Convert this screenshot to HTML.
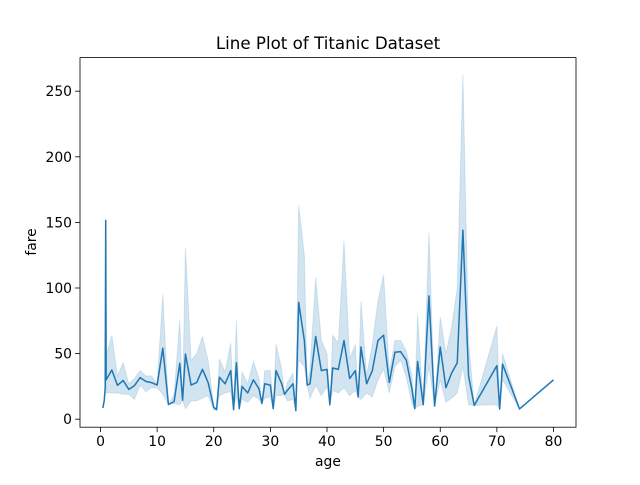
<!DOCTYPE html>
<html><head><meta charset="utf-8"><style>
body{margin:0;background:#fff;font-family:"Liberation Sans","DejaVu Sans",sans-serif}
svg text{font-family:"DejaVu Sans","Liberation Sans",sans-serif;fill:#000}
</style></head><body>
<svg id="chart" width="640" height="480">
<rect width="640" height="480" fill="#fff"/>
<g id="plot"></g>
</svg>
<script>
const ages=[0.42,0.67,0.75,0.83,0.92,1,2,3,4,5,6,7,8,9,10,11,12,13,14,14.5,15,16,17,18,19,20,20.5,21,22,23,23.5,24,24.5,25,26,27,28,28.5,29,30,30.5,31,32,32.5,33,34,34.5,35,36,36.5,37,38,39,40,40.5,41,42,43,44,45,45.5,46,47,48,49,50,51,52,53,54,55,55.5,56,57,58,59,60,61,62,63,64,65,66,70,70.5,71,74,80];
const fareMean=[8.5,14.5,19.3,23.9,151.5,30,37.5,25.8,29.5,22.7,25.6,31.7,28.8,27.9,26,54.2,11.2,13.4,42.6,14.5,49.7,26,28,38,28,9,7.3,32,27,37,7.2,43,8.1,25,20,30,23,12,27,26,8,37,27,19,22,27,6.5,89,60,26,27,63,37,38,11,39,38,60,31,37,17,55,27,37,60,64,28,51,51.5,45,23,8,44,11,94,10,55,24,35,43,144,33,10.5,40.8,7.8,42,7.8,30];
const fareLo=[8.5,14.5,19.3,19,151.5,20,20,20,19,19,15,26,21,24,24,19,11.2,12,11,14.5,8,14,14,16,18,7,7.3,18,20,21,7.2,18,8.1,15,13,18,15,12,16,17,8,18,18,19,14,15,6.5,45,40,26,16,26,18,25,11,22,20,24,18,22,17,15,20,17,30,38,20,40,45,32,12,8,10,11,40,10,30,13,16,20,40,11,10.5,11,7.8,30,7.8,30];
const fareHi=[8.5,14.5,19.3,29,151.5,48,64,33,43,27,31,37,33,33,27,95,11.2,19,76,14.5,131,45,50,63,45,10,7.3,46,36,58,7.2,75,8.1,36,27,44,31,12,37,37,8,57,38,19,28,35,6.5,163,125,26,38,108,60,50,11,64,58,136,46,57,17,90,33,57,90,110,36,60,60,52,33,8,80,11,143,10,78,50,70,100,263,60,10.5,71,7.8,50,7.8,30];
const xTicks=[0,10,20,30,40,50,60,70,80];
const yTicks=[0,50,100,150,200,250];
const L=80,R=576,T=57.6,B=427.2;
const xs=v=>100.5+v*(553.5-100.5)/80;
const ys=v=>419.2-v*(419.2-91.2)/250;
const g=document.getElementById('plot');
const NS='http://www.w3.org/2000/svg';
function mk(t,a){const e=document.createElementNS(NS,t);for(const k in a)e.setAttribute(k,a[k]);g.appendChild(e);return e;}
let band='M'+ages.map((a,i)=>xs(a)+','+ys(fareHi[i])).join('L');
for(let i=ages.length-1;i>=0;i--)band+='L'+xs(ages[i])+','+ys(fareLo[i]);
band+='Z';
const b=mk('path',{d:band,fill:'#1f77b4','fill-opacity':0.2,stroke:'#1f77b4','stroke-opacity':0.15});


const ln=mk('path',{d:'M'+ages.map((a,i)=>xs(a)+','+ys(fareMean[i])).join('L'),fill:'none',stroke:'#1f77b4','stroke-width':1.5,'stroke-linejoin':'round'});


const fr=mk('rect',{x:L,y:T,width:R-L,height:B-T,fill:'none',stroke:'#000','stroke-width':0.8});


xTicks.forEach(v=>{
 const x=xs(v);
 const t=mk('line',{x1:x,x2:x,y1:B,y2:B+4.9,stroke:'#000','stroke-width':0.8});
 
 
 const tx=mk('text',{x:x,y:B+19,'text-anchor':'middle','font-size':13.9});tx.textContent=v;
 
 
});
yTicks.forEach(v=>{
 const y=ys(v);
 const t=mk('line',{x1:L-4.9,x2:L,y1:y,y2:y,stroke:'#000','stroke-width':0.8});
 
 
 const tx=mk('text',{x:L-8,y:y+5,'text-anchor':'end','font-size':13.9});tx.textContent=v;
 
 
});
const xl=mk('text',{x:(L+R)/2,y:466,'text-anchor':'middle','font-size':13.9});xl.textContent='age';


const yl=mk('text',{x:0,y:0,'text-anchor':'middle','font-size':13.9,transform:'translate(36,242) rotate(-90)'});yl.textContent='fare';


const ti=mk('text',{x:(L+R)/2,y:49,'text-anchor':'middle','font-size':16.7});ti.textContent='Line Plot of Titanic Dataset';


</script>
</body></html>
